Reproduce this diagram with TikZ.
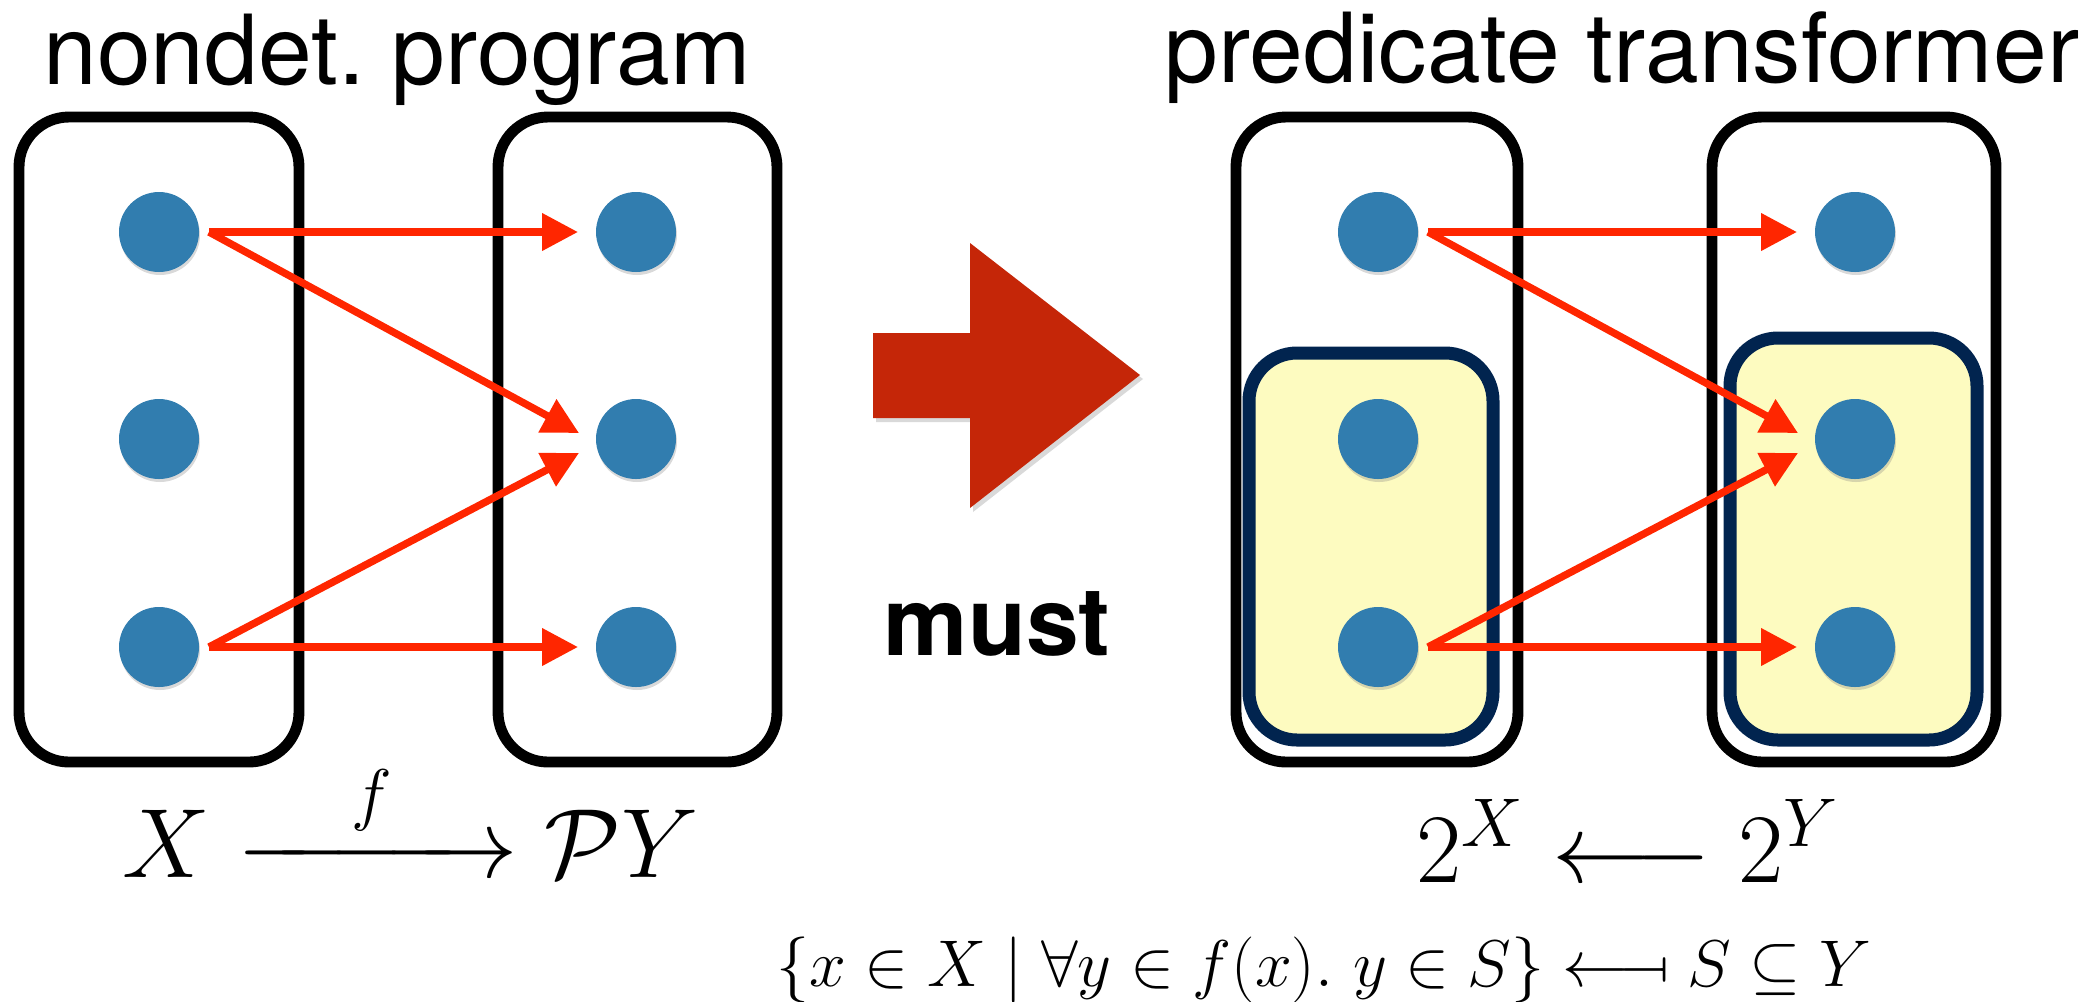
\RequirePackage{fix-cm}
\documentclass[tikz,border=0pt]{standalone}
\usepackage{amsmath}
\usepackage[no-math]{fontspec}
\usepackage{graphicx}
\usetikzlibrary{arrows.meta,calc,shadows}
\newfontfamily\heros{TeX Gyre Heros}
\definecolor{dotblue}{RGB}{49,125,175}
\definecolor{arrred}{RGB}{255,38,0}
\definecolor{bigred}{RGB}{197,38,8}
\definecolor{navy}{RGB}{1,36,79}
\definecolor{paleyellow}{RGB}{253,251,192}

\tikzset{
  setframe/.style={draw=black, line width=3.1pt, rounded corners=0.5cm},
  predbox/.style={draw=navy, fill=paleyellow, line width=3.7pt, rounded corners=0.48cm},
  elem/.style={circle, fill=dotblue, minimum size=0.8cm, inner sep=0pt,
    drop shadow={shadow xshift=0.01cm, shadow yshift=-0.03cm, opacity=0.3}},
  maparrow/.style={draw=arrred, line width=2.1pt, -{Triangle[length=3.6mm,width=3.6mm]}},
  headline/.style={anchor=base, font=\heros\fontsize{27.5}{30}\selectfont},
  mathbig/.style={anchor=base, font=\fontsize{28}{32}\selectfont},
}

\begin{document}
\begin{tikzpicture}
  \useasboundingbox (0,0) rectangle (20.96,-10.01);
  % the sets
  \draw[setframe] (0.19,-1.17) rectangle (2.99,-7.62);
  \draw[setframe] (4.98,-1.17) rectangle (7.77,-7.62);
  \draw[setframe] (12.36,-1.17) rectangle (15.18,-7.62);
  \draw[setframe] (17.12,-1.17) rectangle (19.96,-7.62);
  % the predicates
  \draw[predbox] (12.49,-3.53) rectangle (14.93,-7.40);
  \draw[predbox] (17.30,-3.38) rectangle (19.77,-7.40);
  % elements
  \foreach \i/\y in {1/-2.32, 2/-4.39, 3/-6.47} {
    \node[elem] (l\i) at (1.59,\y) {};
    \node[elem] (r\i) at (6.36,\y) {};
    \node[elem] (u\i) at (13.78,\y) {};
    \node[elem] (v\i) at (18.55,\y) {};
  }
  % the same relation in both pictures
  \foreach \s/\t in {l/r, u/v} {
    \draw[maparrow] ($(\s1)+(0.5,0)$) -- ($(\t1)+(-0.58,0)$);
    \draw[maparrow] ($(\s1)+(0.5,0)$) -- ($(\t2)+(-0.57,0.06)$);
    \draw[maparrow] ($(\s3)+(0.5,0)$) -- ($(\t2)+(-0.57,-0.14)$);
    \draw[maparrow] ($(\s3)+(0.5,0)$) -- ($(\t3)+(-0.58,0)$);
  }
  % big arrow
  \fill[bigred, drop shadow={shadow xshift=0.03cm, shadow yshift=-0.04cm, opacity=0.3}]
    (8.73,-3.33) -- (9.70,-3.33) -- (9.70,-2.43) -- (11.40,-3.75)
    -- (9.70,-5.08) -- (9.70,-4.18) -- (8.73,-4.18) -- cycle;
  \node[anchor=base, font=\heros\bfseries\fontsize{27}{30}\selectfont] (must) at (9.97,-6.55) {must};
  % labels
  \node[headline] (ttlprog) at (3.97,-0.84) {nondet.\ program};
  \node[headline] (ttlpt) at (16.22,-0.82) {predicate transformer};
  \node[mathbig] (fmap) at (4.11,-8.77)
    {$X \xrightarrow{\makebox[2.3em]{$\scriptstyle f$}} \mathcal{P}Y$};
  \node[mathbig] (fpt) at (16.28,-8.82) {$2^X \longleftarrow 2^Y$};
  \node[anchor=base, font=\fontsize{18.8}{22}\selectfont] (fdef) at (13.24,-9.86)
    {$\{x\in X \mid \forall y\in f(x).\ y\in S\} \mathrel{\reflectbox{$\longmapsto$}} S\subseteq Y$};
\end{tikzpicture}
\end{document}
